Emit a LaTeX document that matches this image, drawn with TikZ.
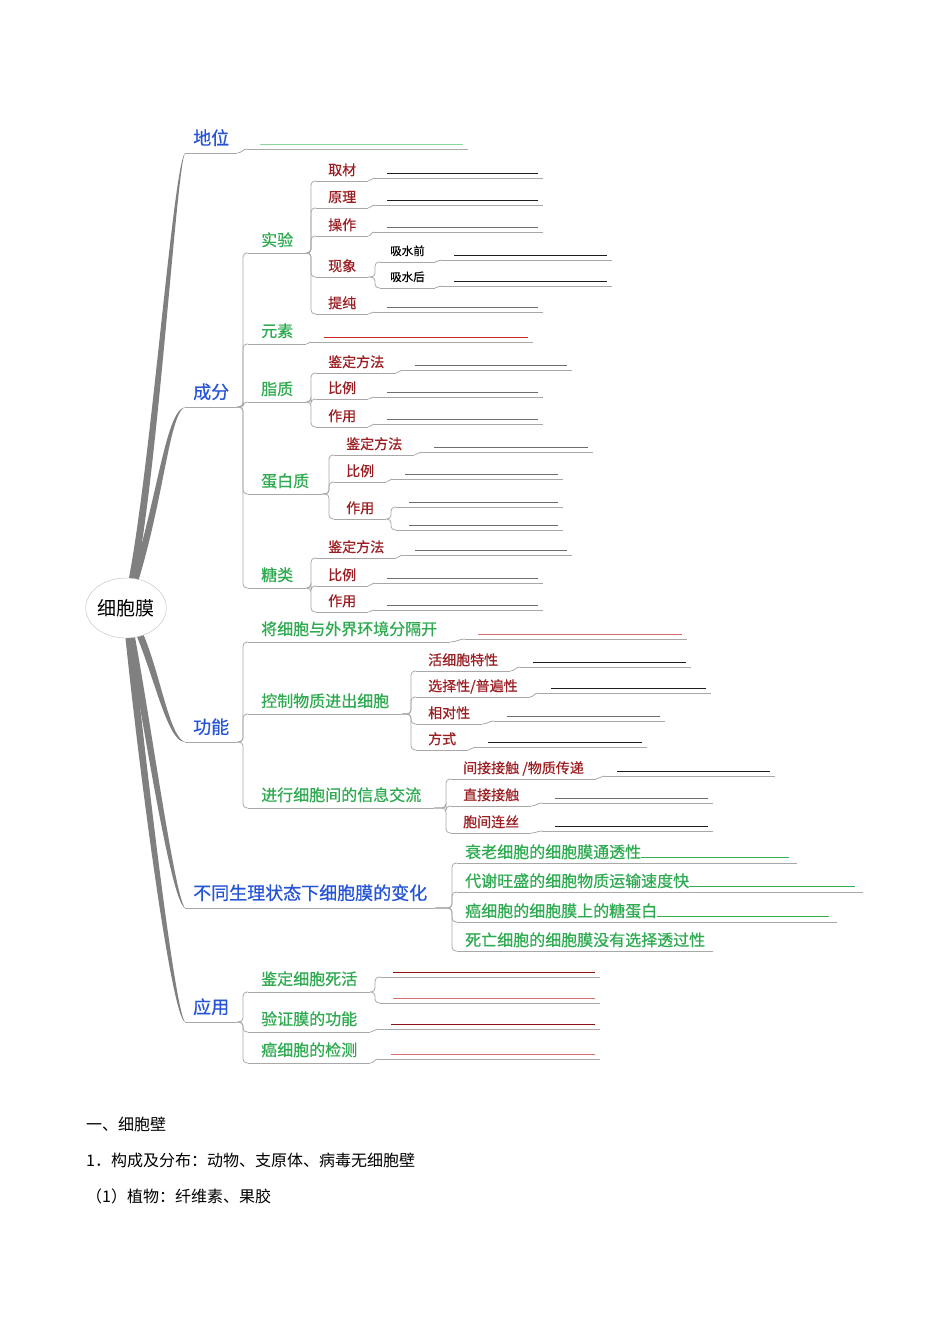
\documentclass[tikz,border=0pt]{standalone}
\usepackage{fontspec}
\setmainfont{Noto Sans CJK SC}[FakeBold=0.6]
\newfontfamily\plainfont{Noto Sans CJK SC}
\usepackage{tikz}
\usetikzlibrary{calc,positioning,shapes.geometric,backgrounds}

\definecolor{blueT}{RGB}{38,84,214}
\definecolor{greenT}{RGB}{46,170,80}
\definecolor{redT}{RGB}{155,30,35}
\definecolor{connG}{RGB}{168,168,168}
\definecolor{trunkG}{RGB}{128,128,128}
\definecolor{ansK}{RGB}{30,30,30}
\definecolor{ansG}{RGB}{110,110,110}
\definecolor{ansLG}{RGB}{140,215,160}
\definecolor{ansGr}{RGB}{50,175,80}
\definecolor{ansR}{RGB}{205,40,40}
\definecolor{ansP}{RGB}{215,110,110}
\definecolor{ansDR}{RGB}{140,20,20}

\tikzset{
	hub/.style={shape=ellipse,draw=gray!50,fill=white,minimum width=80pt,minimum height=60pt,inner sep=0pt,font=\plainfont\fontsize{19}{21}\selectfont},
	topA/.style={anchor=south west,inner xsep=8pt,inner ysep=5.5pt,text height=15.3pt,text depth=2.7pt,font=\fontsize{18}{20}\selectfont,text=blueT},
	topB/.style={anchor=south west,inner xsep=13pt,inner ysep=4.5pt,text height=13.6pt,text depth=2.4pt,font=\fontsize{16}{18}\selectfont,text=greenT},
	topC/.style={anchor=south west,inner xsep=12pt,inner ysep=3.6pt,text height=11.9pt,text depth=2.1pt,font=\fontsize{14}{16}\selectfont,text=redT},
	topD/.style={anchor=south west,inner xsep=10pt,inner ysep=4.9pt,text height=9.8pt,text depth=1.7pt,font=\fontsize{11.5}{13}\selectfont,text=black},
	topE/.style={anchor=south west,inner xsep=8pt,inner ysep=2.5pt,text height=13.6pt,text depth=2.4pt,font=\fontsize{16}{18}\selectfont,text=greenT},
	blankln/.style={anchor=south west,inner sep=0pt,minimum height=10pt,minimum width=#1},
	ansln/.style={path picture={\draw[line width=1.2pt,#1] ([xshift=13pt,yshift=4.5pt]path picture bounding box.south west) -- ([xshift=-5pt,yshift=4.5pt]path picture bounding box.south east);}},
	conn/.style={draw=connG,line width=0.8pt,rounded corners=4pt},
	uline/.style={draw=connG,line width=0.8pt},
	trunk/.style={fill=trunkG},
	notetxt/.style={anchor=west,inner sep=0pt,font=\plainfont\fontsize{16}{18}\selectfont},
}

\begin{document}
\begin{tikzpicture}[x=1pt,y=-1pt]
		\useasboundingbox (0,0) rectangle (950,1344);
		% centre and first level
		\node(root) [hub] at (126,608) {细胞膜};
		\node(dw) [topA] at (185,153) {地位};
		\node(cf) [topA] at (185,407) {成分};
		\node(gn) [topA] at (185,742) {功能};
		\node(bt) [topA] at (185,908) {不同生理状态下细胞膜的变化};
		\node(yy) [topA] at (185,1022) {应用};
		\node(dwB) [blankln=221,ansln=ansLG] at (247,149) {};
		% 成分
		\node(sy) [topB] at (248,253) {实验};
		\node(ys) [topB] at (248,344) {元素};
		\node(zz) [topB] at (248,402) {脂质};
		\node(dbz) [topB] at (248,494) {蛋白质};
		\node(tl) [topB] at (248,588) {糖类};
		\node(qc) [topC] at (316,181) {取材};
		\node(yl) [topC] at (316,208) {原理};
		\node(cz) [topC] at (316,236) {操作};
		\node(xx) [topC] at (316,277) {现象};
		\node(ct) [topC] at (316,314) {提纯};
		\node(xsq) [topD] at (380,262) {吸水前};
		\node(xsh) [topD] at (380,288) {吸水后};
		\node(zz1) [topC] at (316,373) {鉴定方法};
		\node(zz2) [topC] at (316,399) {比例};
		\node(zz3) [topC] at (316,427) {作用};
		\node(db1) [topC] at (334,455) {鉴定方法};
		\node(db2) [topC] at (334,482) {比例};
		\node(db3) [topC] at (334,519) {作用};
		\node(tl1) [topC] at (316,558) {鉴定方法};
		\node(tl2) [topC] at (316,586) {比例};
		\node(tl3) [topC] at (316,612) {作用};
		\node(qcB) [blankln=169,ansln=ansK] at (374,178) {};
		\node(ylB) [blankln=169,ansln=ansK] at (374,205) {};
		\node(czB) [blankln=169,ansln={ansG,line width=1.6pt}] at (374,232) {};
		\node(xsqB) [blankln=171,ansln=ansK] at (441,260) {};
		\node(xshB) [blankln=171,ansln=ansK] at (441,286) {};
		\node(ctB) [blankln=169,ansln={ansG,line width=1.6pt}] at (374,312) {};
		\node(ysB) [blankln=222,ansln=ansR] at (311,342) {};
		\node(zz1B) [blankln=170,ansln={ansG,line width=1.6pt}] at (402,370) {};
		\node(zz2B) [blankln=169,ansln={ansG,line width=1.6pt}] at (374,397) {};
		\node(zz3B) [blankln=169,ansln={ansG,line width=1.6pt}] at (374,424) {};
		\node(db1B) [blankln=172,ansln={ansG,line width=1.6pt}] at (421,452) {};
		\node(db2B) [blankln=171,ansln={ansG,line width=1.6pt}] at (392,479) {};
		\node(db3a) [blankln=167,ansln={ansG,line width=1.6pt}] at (396,507) {};
		\node(db3b) [blankln=167,ansln={ansG,line width=1.6pt}] at (396,530) {};
		\node(tl1B) [blankln=170,ansln={ansG,line width=1.6pt}] at (402,555) {};
		\node(tl2B) [blankln=169,ansln={ansG,line width=1.6pt}] at (374,583) {};
		\node(tl3B) [blankln=169,ansln={ansG,line width=1.6pt}] at (374,610) {};
		% 功能
		\node(gl) [topB] at (248,642) {将细胞与外界环境分隔开};
		\node(kz) [topB] at (248,714) {控制物质进出细胞};
		\node(jx) [topB] at (248,808) {进行细胞间的信息交流};
		\node(kz1) [topC] at (416,671) {活细胞特性};
		\node(kz2) [topC] at (416,697) {选择性/普遍性};
		\node(kz3) [topC] at (416,724) {相对性};
		\node(kz4) [topC] at (416,750) {方式};
		\node(jx1) [topC] at (451,779) {间接接触 /物质传递};
		\node(jx2) [topC] at (451,806) {直接接触};
		\node(jx3) [topC] at (451,833) {胞间连丝};
		\node(glB) [blankln=222,ansln=ansP] at (465,639) {};
		\node(kz1B) [blankln=171,ansln=ansK] at (520,667) {};
		\node(kz2B) [blankln=173,ansln=ansK] at (538,693) {};
		\node(kz3B) [blankln=171,ansln={ansG,line width=1.6pt}] at (494,721) {};
		\node(kz4B) [blankln=172,ansln=ansK] at (475,747) {};
		\node(jx1B) [blankln=171,ansln=ansK] at (604,776) {};
		\node(jx2B) [blankln=171,ansln={ansG,line width=1.6pt}] at (542,803) {};
		\node(jx3B) [blankln=171,ansln=ansK] at (542,831) {};
		% 不同生理状态
		\node(bt1) [topE] at (457,863) {衰老细胞的细胞膜通透性\textcolor{ansGr}{\rule{148pt}{1.2pt}}};
		\node(bt2) [topE] at (457,892) {代谢旺盛的细胞物质运输速度快\textcolor{ansGr}{\rule{166pt}{1.2pt}}};
		\node(bt3) [topE] at (457,922) {癌细胞的细胞膜上的糖蛋白\textcolor{ansGr}{\rule{172pt}{1.2pt}}};
		\node(bt4) [topE] at (457,951) {死亡细胞的细胞膜没有选择透过性};
		% 应用
		\node(jd) [topB] at (248,992) {鉴定细胞死活};
		\node(yz) [topB] at (248,1032) {验证膜的功能};
		\node(az) [topB] at (248,1063) {癌细胞的检测};
		\node(jd1) [blankln=220,ansln=ansDR] at (380,977) {};
		\node(jd2) [blankln=220,ansln=ansP] at (380,1003) {};
		\node(yzB) [blankln=222,ansln=ansDR] at (378,1029) {};
		\node(azB) [blankln=222,ansln=ansP] at (378,1059) {};
		% text below the map
		\node(n1) [notetxt] at (86,1124) {一、细胞壁};
		\node(n2) [notetxt] at (86,1160) {1．构成及分布：动物、支原体、病毒无细胞壁};
		\node(n3) [notetxt] at (86,1196) {（1）植物：纤维素、果胶};

		\foreach \n in {dw,cf,gn,bt,yy,sy,ys,zz,dbz,tl,qc,yl,cz,xx,ct,xsq,xsh,zz1,zz2,zz3,db1,db2,db3,tl1,tl2,tl3,
			gl,kz,jx,kz1,kz2,kz3,kz4,jx1,jx2,jx3,bt1,bt2,bt3,bt4,jd,yz,az,
			dwB,qcB,ylB,czB,xsqB,xshB,ctB,ysB,zz1B,zz2B,zz3B,db1B,db2B,db3a,db3b,tl1B,tl2B,tl3B,
			glB,kz1B,kz2B,kz3B,kz4B,jx1B,jx2B,jx3B,jd1,jd2,yzB,azB}
			\draw[uline] (\n.south west) -- (\n.south east);
		\foreach \a/\b in {dw/dwB,qc/qcB,yl/ylB,cz/czB,xsq/xsqB,xsh/xshB,ct/ctB,ys/ysB,zz1/zz1B,zz2/zz2B,zz3/zz3B,
			db1/db1B,db2/db2B,tl1/tl1B,tl2/tl2B,tl3/tl3B,gl/glB,kz1/kz1B,kz2/kz2B,kz3/kz3B,kz4/kz4B,
			jx1/jx1B,jx2/jx2B,jx3/jx3B,yz/yzB,az/azB}
			\draw[uline] (\a.south east) to[out=0,in=180] (\b.south west);
		\foreach \a/\b in {cf/sy,cf/ys,cf/zz,cf/dbz,cf/tl,sy/qc,sy/yl,sy/cz,sy/xx,sy/ct,xx/xsq,xx/xsh,
			zz/zz1,zz/zz2,zz/zz3,dbz/db1,dbz/db2,dbz/db3,db3/db3a,db3/db3b,tl/tl1,tl/tl2,tl/tl3,
			gn/gl,gn/kz,gn/jx,kz/kz1,kz/kz2,kz/kz3,kz/kz4,jx/jx1,jx/jx2,jx/jx3,
			bt/bt1,bt/bt2,bt/bt3,bt/bt4,yy/jd,yy/yz,yy/az,jd/jd1,jd/jd2}
			\draw[conn] (\a.south east) -| ([xshift=-5pt]\b.south west) -- (\b.south west);

		\begin{scope}[on background layer]
			\fill[white] (0,0) rectangle (950,1344);
			\fill[trunk] ([xshift=-3.5pt]root.center) .. controls (148,510) and (172,168) .. (dw.south west)
				.. controls (176,168) and (156,510) .. ([xshift=3.5pt]root.center) -- cycle;
			\fill[trunk] ([xshift=-3.5pt]root.center) .. controls (158,505) and (164,412) .. (cf.south west)
				.. controls (168,414) and (164,510) .. ([xshift=3.5pt]root.center) -- cycle;
			\fill[trunk] ([xshift=-3.5pt]root.center) .. controls (150,650) and (164,742) .. (gn.south west)
				.. controls (166,736) and (158,648) .. ([xshift=3.5pt]root.center) -- cycle;
			\fill[trunk] ([xshift=-3.5pt]root.center) .. controls (140,700) and (170,902) .. (bt.south west)
				.. controls (174,896) and (148,700) .. ([xshift=3.5pt]root.center) -- cycle;
			\fill[trunk] ([xshift=-3.5pt]root.center) .. controls (134,730) and (170,1016) .. (yy.south west)
				.. controls (174,1010) and (142,730) .. ([xshift=3.5pt]root.center) -- cycle;
		\end{scope}
	\end{tikzpicture}
\end{document}
